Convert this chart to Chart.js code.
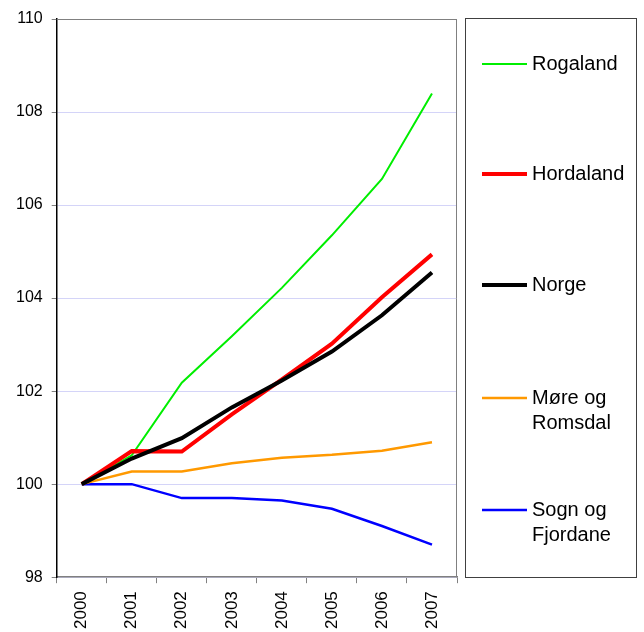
<!DOCTYPE html>
<html>
<head>
<meta charset="utf-8">
<style>
  html, body { margin: 0; padding: 0; background: #fff; }
  #wrap { width: 644px; height: 632px; position: relative; }
</style>
<script src="https://cdn.jsdelivr.net/npm/chart.js@4/dist/chart.umd.min.js"></script>
</head>
<body>
<div id="wrap"><canvas id="c" width="644" height="632"></canvas></div>
<script>
// Indeks, 2000 = 100
var years = ['2000', '2001', '2002', '2003', '2004', '2005', '2006', '2007'];
var yTicks = [98, 100, 102, 104, 106, 108, 110];

var rogaland = [100, 100.62, 102.18, 103.18, 104.22, 105.35, 106.56, 108.4];
var hordaland = [100, 100.71, 100.7, 101.5, 102.25, 103.02, 104.02, 104.94];
var norge = [100, 100.55, 100.99, 101.65, 102.23, 102.85, 103.63, 104.55];
var moreRomsdal = [100, 100.27, 100.27, 100.45, 100.57, 100.63, 100.72, 100.9];
var sognFjordane = [100, 100.0, 99.7, 99.7, 99.65, 99.47, 99.1, 98.7];

var series = [
  { label: ['Rogaland'], data: rogaland, color: '#00ee00', width: 2, order: 2 },
  { label: ['Hordaland'], data: hordaland, color: '#ff0000', width: 4, order: 1 },
  { label: ['Norge'], data: norge, color: '#000000', width: 4, order: 0 },
  { label: ['Møre og', 'Romsdal'], data: moreRomsdal, color: '#ff9900', width: 2.5, order: 3 },
  { label: ['Sogn og', 'Fjordane'], data: sognFjordane, color: '#0000ff', width: 2.5, order: 3 }
];

var FONT = '"Liberation Sans", Arial, sans-serif';

// ramme rundt plottet + legende-boks til høyre
var frame = {
  id: 'frame',
  afterDraw: function (chart) {
    var ctx = chart.ctx, a = chart.chartArea;
    ctx.save();
    ctx.strokeStyle = '#808080';
    ctx.lineWidth = 1;
    ctx.beginPath();
    ctx.moveTo(a.left, a.top + 0.5);
    ctx.lineTo(a.right - 0.5, a.top + 0.5);
    ctx.lineTo(a.right - 0.5, a.bottom);
    ctx.stroke();

    // legende
    var bx = 465.5, by = 18.5, bw = 171, bh = 559;
    ctx.strokeStyle = '#404040';
    ctx.strokeRect(bx, by, bw, bh);
    var rows = [64, 174, 285, 398, 510];
    ctx.font = '20px ' + FONT;
    ctx.fillStyle = '#000';
    ctx.textBaseline = 'middle';
    chart.data.datasets.forEach(function (ds, i) {
      var y = rows[i];
      ctx.strokeStyle = ds.borderColor;
      ctx.lineWidth = ds.borderWidth;
      ctx.beginPath();
      ctx.moveTo(482, y);
      ctx.lineTo(527, y);
      ctx.stroke();
      ds.legendLines.forEach(function (t, k) {
        ctx.fillText(t, 532, y + k * 25);
      });
    });
    ctx.restore();
  }
};

new Chart(document.getElementById('c').getContext('2d'), {
  type: 'line',
  data: {
    labels: years,
    datasets: series.map(function (s) {
      return {
        label: s.label.join(' '),
        legendLines: s.label,
        data: s.data,
        borderColor: s.color,
        backgroundColor: s.color,
        borderWidth: s.width,
        pointRadius: 0,
        tension: 0,
        fill: false,
        order: s.order
      };
    })
  },
  options: {
    responsive: false,
    animation: false,
    events: [],
    layout: { padding: { top: 19, right: 187, left: 7, bottom: -5 } },
    plugins: { legend: { display: false }, tooltip: { enabled: false } },
    scales: {
      x: {
        offset: true,
        grid: { drawOnChartArea: false, drawTicks: true, tickLength: 6, tickColor: '#808080', offset: true },
        border: { color: '#808080', width: 1.5 },
        ticks: { color: '#000', font: { family: FONT, size: 17 }, minRotation: 90, maxRotation: 90, padding: 8 }
      },
      y: {
        min: 98,
        max: 110,
        afterBuildTicks: function (axis) {
          axis.ticks = yTicks.map(function (v) { return { value: v }; });
        },
        grid: {
          color: function (c) { return c.tick && c.tick.value === 110 ? '#808080' : '#d4d4f8'; },
          tickLength: 5,
          tickColor: '#808080'
        },
        border: { color: '#000', width: 1.5 },
        ticks: { color: '#000', font: { family: FONT, size: 16 }, padding: 9 }
      }
    }
  },
  plugins: [frame]
});
</script>
</body>
</html>
